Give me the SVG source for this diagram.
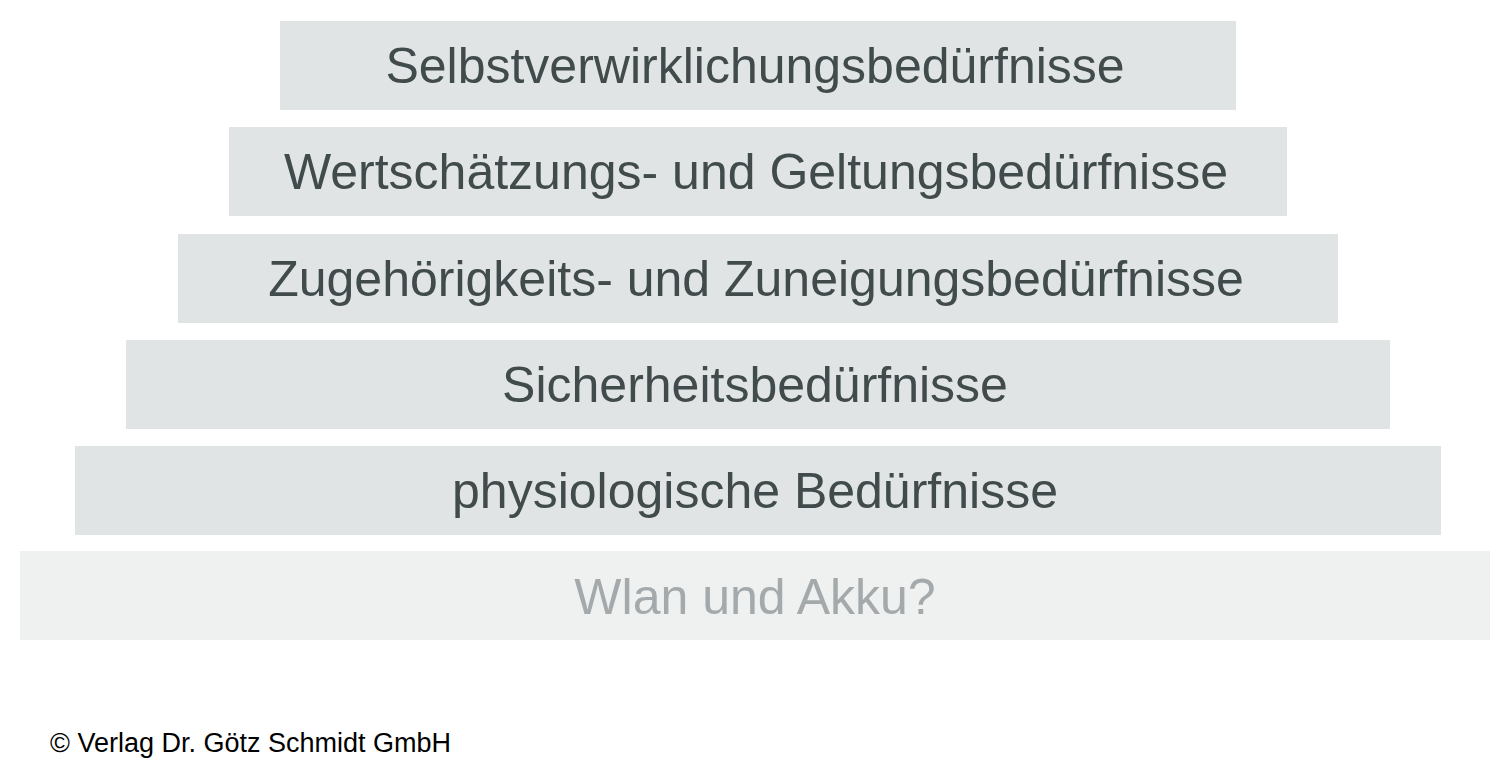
<svg xmlns="http://www.w3.org/2000/svg" width="1508" height="758" viewBox="0 0 1508 758">
<style>
.box{fill:#e1e4e5}
.base{fill:#eff0f0}
.t{font-family:"Liberation Sans",Arial,sans-serif;font-size:50px;fill:#414b4b;text-anchor:middle}
.tl{font-family:"Liberation Sans",Arial,sans-serif;font-size:50px;fill:#a4aaac;text-anchor:middle}
.foot{font-family:"Liberation Sans",Arial,sans-serif;font-size:27px;fill:#000}
</style>
<rect width="1508" height="758" fill="#ffffff"/>
<g id="level6"><rect class="box" x="280" y="21" width="956" height="89"/><text class="t" x="755" y="83">Selbstverwirklichungsbedürfnisse</text></g>
<g id="level5"><rect class="box" x="229" y="127" width="1058" height="89"/><text class="t" x="756" y="189">Wertschätzungs- und Geltungsbedürfnisse</text></g>
<g id="level4"><rect class="box" x="178" y="234" width="1160" height="89"/><text class="t" x="756" y="296">Zugehörigkeits- und Zuneigungsbedürfnisse</text></g>
<g id="level3"><rect class="box" x="126" y="340" width="1264" height="89"/><text class="t" x="755" y="402">Sicherheitsbedürfnisse</text></g>
<g id="level2"><rect class="box" x="75" y="446" width="1366" height="89"/><text class="t" x="755" y="508">physiologische Bedürfnisse</text></g>
<g id="level1"><rect class="base" x="20" y="551" width="1470" height="89"/><text class="tl" x="755" y="614">Wlan und Akku?</text></g>
<g id="connectors"></g>
<text class="foot" x="50" y="752">© Verlag Dr. Götz Schmidt GmbH</text>
</svg>
